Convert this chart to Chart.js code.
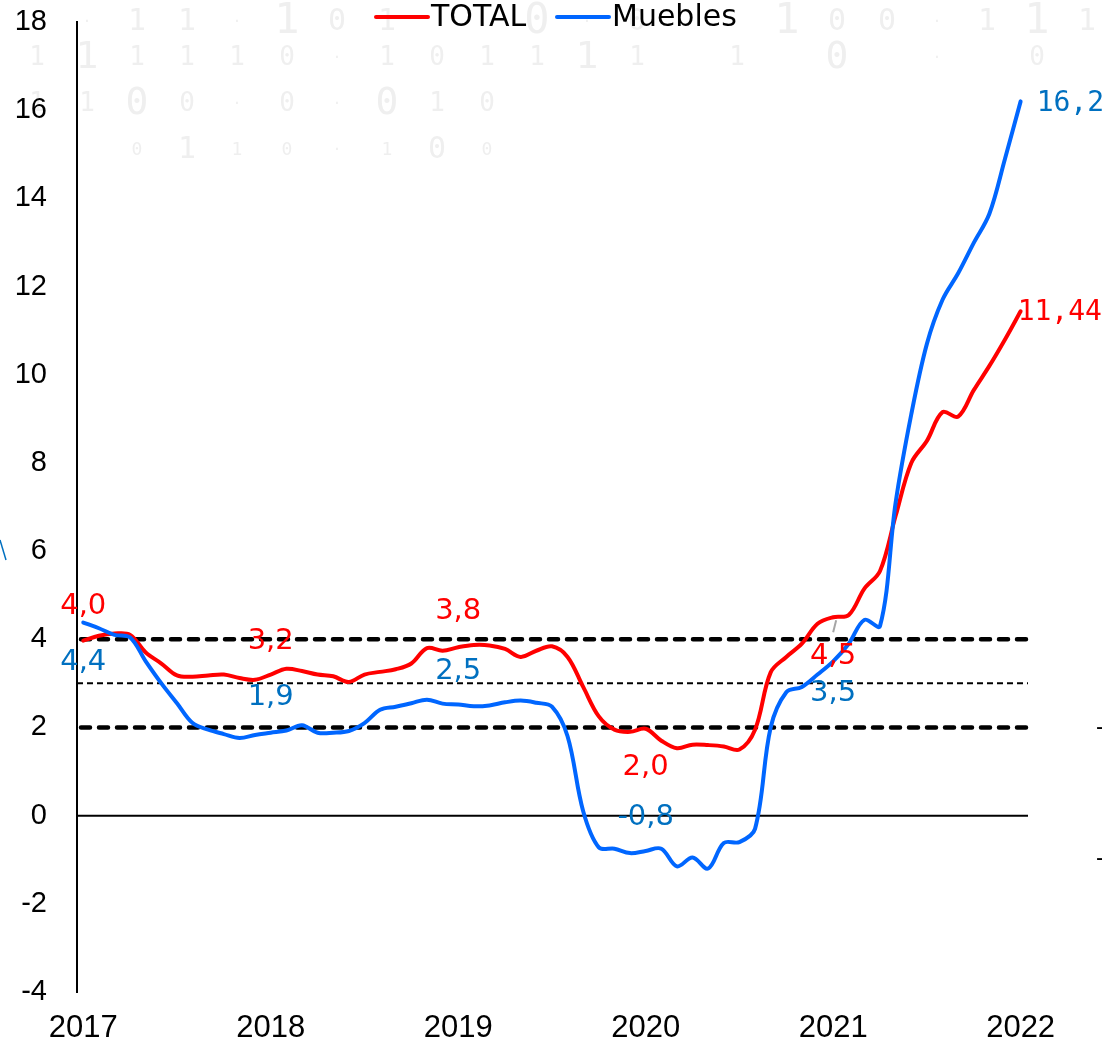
<!DOCTYPE html>
<html>
<head>
<meta charset="utf-8">
<script src="https://cdn.jsdelivr.net/npm/chart.js@4.4.1/dist/chart.umd.min.js"></script>
<style>
  html, body { margin: 0; padding: 0; background: #fff; }
  #wrap { width: 1102px; height: 1045px; }
</style>
</head>
<body>
<div id="wrap"><canvas id="chart" width="1102" height="1045"></canvas></div>
<script>
// monthly series, Jan 2017 .. Jan 2022 (index = months since Jan 2017)
const years = ['2017', '2018', '2019', '2020', '2021', '2022'];

const total = [
  3.97, 4.08, 4.13, 4.1, 3.7, 3.45, 3.18, 3.15, 3.18, 3.2, 3.12, 3.08,
  3.2, 3.33, 3.28, 3.2, 3.16, 3.03, 3.2, 3.26, 3.32, 3.45, 3.8, 3.74,
  3.82, 3.87, 3.86, 3.78, 3.6, 3.74, 3.84, 3.6, 2.92, 2.25, 1.95, 1.9,
  1.97, 1.7, 1.53, 1.61, 1.6, 1.57, 1.5, 1.95, 3.25, 3.6, 3.9, 4.35,
  4.5, 4.55, 5.15, 5.55, 6.8, 8.0, 8.5, 9.15, 9.05, 9.65, 10.2, 10.8,
  11.44
];

const muebles = [
  4.38, 4.25, 4.1, 4.04, 3.5, 3.0, 2.55, 2.1, 1.95, 1.85, 1.76, 1.83,
  1.88, 1.93, 2.05, 1.88, 1.88, 1.92, 2.1, 2.4, 2.47, 2.55, 2.63, 2.54,
  2.52, 2.48, 2.5, 2.57, 2.61, 2.56, 2.47, 1.8, 0.1, -0.72, -0.75, -0.85,
  -0.8, -0.75, -1.15, -0.95, -1.2, -0.62, -0.6, -0.3, 2.0, 2.8, 2.92, 3.2,
  3.5, 3.9, 4.44, 4.3, 7.1, 9.1, 10.7, 11.7, 12.3, 12.99, 13.65, 14.9,
  16.2
];

// value labels shown at each January
const labelMonths = [0, 12, 24, 36, 48, 60];
const totalLabels = ['4,0', '3,2', '3,8', '2,0', '4,5', '11,44'];
const mueblesLabels = ['4,4', '1,9', '2,5', '-0,8', '3,5', '16,2'];

// reference levels
const refLevels = [4, 3, 2, 0];

// background watermark digits
const bgRows = [
  ' ·11·101  0·0  100·111',
  '111110·101111 1 0 · 0',
  '1100·0·010',
  '  0110·100'
];

const RED = '#ff0000';
const BLUE = '#0066ff';
const BLUE_TXT = '#0070c0';

const toXY = arr => arr.map((v, i) => ({ x: i, y: v }));

const bgPlugin = {
  id: 'bg',
  beforeDraw(chart) {
    const ctx = chart.ctx;
    const rowY = [22, 58, 104, 150];
    const rowSize = [34, 30, 30, 22];
    ctx.save();
    ctx.fillStyle = '#efefef';
    ctx.textAlign = 'center';
    ctx.textBaseline = 'middle';
    bgRows.forEach((row, r) => {
      [...row].forEach((ch, k) => {
        if (ch === ' ') return;
        const big = (k * 7 + r * 3) % 5 === 0;
        const sz = ch === '·' ? 14 : (big ? rowSize[r] + 8 : rowSize[r] - 4);
        ctx.font = sz + 'px "DejaVu Sans Mono"';
        ctx.fillText(ch, 37 + k * 50, rowY[r]);
      });
    });
    ctx.restore();
  }
};

const refLinesPlugin = {
  id: 'refLines',
  beforeDatasetsDraw(chart) {
    const { ctx, chartArea } = chart;
    const y = chart.scales.y;
    ctx.save();
    ctx.strokeStyle = '#000';
    refLevels.forEach(v => {
      const py = y.getPixelForValue(v);
      ctx.beginPath();
      if (v === 0) {
        ctx.setLineDash([]);
        ctx.lineWidth = 2;
        ctx.lineCap = 'butt';
        ctx.moveTo(chartArea.left, py);
        ctx.lineTo(chartArea.right - 2, py);
      } else if (v === 3) {
        ctx.setLineDash([6, 4]);
        ctx.lineWidth = 2;
        ctx.lineCap = 'butt';
        ctx.moveTo(chartArea.left, py);
        ctx.lineTo(chartArea.right - 2, py);
      } else {
        ctx.setLineDash([9, 9]);
        ctx.lineWidth = 4.5;
        ctx.lineCap = 'round';
        ctx.moveTo(chartArea.left + 4, py);
        ctx.lineTo(chartArea.right, py);
      }
      ctx.stroke();
    });
    ctx.restore();
  }
};

const valueLabelsPlugin = {
  id: 'valueLabels',
  afterDatasetsDraw(chart) {
    const ctx = chart.ctx;
    const xs = chart.scales.x, ys = chart.scales.y;
    const sets = [
      { data: total, texts: totalLabels, color: RED,
        off: [[0, -34, 'center'], [0, -33, 'center'], [0, -36, 'center'], [0, 39, 'center'], [0, 39, 'center'], [-3, 1, 'left']] },
      { data: muebles, texts: mueblesLabels, color: BLUE_TXT,
        off: [[0, 40, 'center'], [0, -35, 'center'], [0, -33, 'center'], [0, -33, 'center'], [0, 32, 'center'], [16, 2, 'left']] }
    ];
    ctx.save();
    ctx.textBaseline = 'middle';
    sets.forEach(s => {
      labelMonths.forEach((m, i) => {
        const px = xs.getPixelForValue(m);
        const py = ys.getPixelForValue(s.data[m]);
        const [dx, dy, align] = s.off[i];
        const last = i === labelMonths.length - 1;
        ctx.font = last ? '28px "DejaVu Sans Mono"' : '29px "DejaVu Sans"';
        ctx.fillStyle = s.color;
        ctx.textAlign = align;
        ctx.fillText(s.texts[i], px + dx, py + dy);
      });
    });
    // small leader line for the 2021 TOTAL label
    const lx = xs.getPixelForValue(labelMonths[4]);
    const ly = ys.getPixelForValue(total[labelMonths[4]]);
    ctx.strokeStyle = '#a6a6a6';
    ctx.lineWidth = 2;
    ctx.beginPath();
    ctx.moveTo(lx + 3, ly + 3);
    ctx.lineTo(lx, ly + 15);
    ctx.stroke();
    ctx.restore();
  }
};

const legendPlugin = {
  id: 'topLegend',
  afterDraw(chart) {
    const ctx = chart.ctx;
    const items = chart.data.datasets;
    const starts = [376, 557];
    ctx.save();
    ctx.font = '30px "DejaVu Sans"';
    ctx.textBaseline = 'middle';
    ctx.textAlign = 'left';
    items.forEach((ds, i) => {
      const x = starts[i];
      ctx.strokeStyle = ds.borderColor;
      ctx.lineWidth = 4;
      ctx.lineCap = 'round';
      ctx.beginPath();
      ctx.moveTo(x, 17);
      ctx.lineTo(x + 52, 17);
      ctx.stroke();
      ctx.fillStyle = '#000';
      ctx.fillText(ds.label, x + 55, 18);
    });
    // stray marks at the edges of the original picture
    ctx.font = '24px "Liberation Sans"';
    ctx.fillText('-', 1096, 727);
    ctx.fillText('-', 1096, 858);
    ctx.strokeStyle = BLUE_TXT;
    ctx.lineWidth = 1.5;
    ctx.lineCap = 'butt';
    ctx.beginPath();
    ctx.moveTo(0, 540);
    ctx.lineTo(6, 560);
    ctx.stroke();
    ctx.restore();
  }
};

new Chart(document.getElementById('chart'), {
  type: 'line',
  data: {
    datasets: [
      { label: 'TOTAL', data: toXY(total), borderColor: RED, order: 1 },
      { label: 'Muebles', data: toXY(muebles), borderColor: BLUE, order: 0 }
    ]
  },
  options: {
    responsive: false,
    animation: false,
    devicePixelRatio: 1,
    layout: { padding: { top: 22, right: 72, left: 0, bottom: 0 } },
    elements: {
      line: { borderWidth: 4, tension: 0.35, borderCapStyle: 'round', fill: false },
      point: { radius: 0 }
    },
    plugins: { legend: { display: false }, tooltip: { enabled: false } },
    scales: {
      x: {
        type: 'linear',
        min: -0.4,
        max: 60.6,
        afterFit(s) { s.height = 53; s.paddingLeft = 0; s.paddingRight = 0; },
        afterBuildTicks(s) { s.ticks = years.map((y, i) => ({ value: i * 12 })); },
        ticks: {
          callback: v => years[Math.round(v / 12)],
          font: { family: 'Liberation Sans', size: 31 },
          color: '#000',
          padding: 18,
          autoSkip: false,
          maxRotation: 0
        },
        grid: { display: false, drawTicks: false },
        border: { display: false }
      },
      y: {
        min: -4,
        max: 18,
        afterFit(s) { s.width = 77; s.paddingTop = 0; s.paddingBottom = 0; },
        ticks: {
          stepSize: 2,
          font: { family: 'Liberation Sans', size: 29 },
          color: '#000',
          padding: 30
        },
        grid: { display: false, drawTicks: false },
        border: { display: true, color: '#000', width: 2 }
      }
    }
  },
  plugins: [bgPlugin, refLinesPlugin, valueLabelsPlugin, legendPlugin]
});
</script>
</body>
</html>
